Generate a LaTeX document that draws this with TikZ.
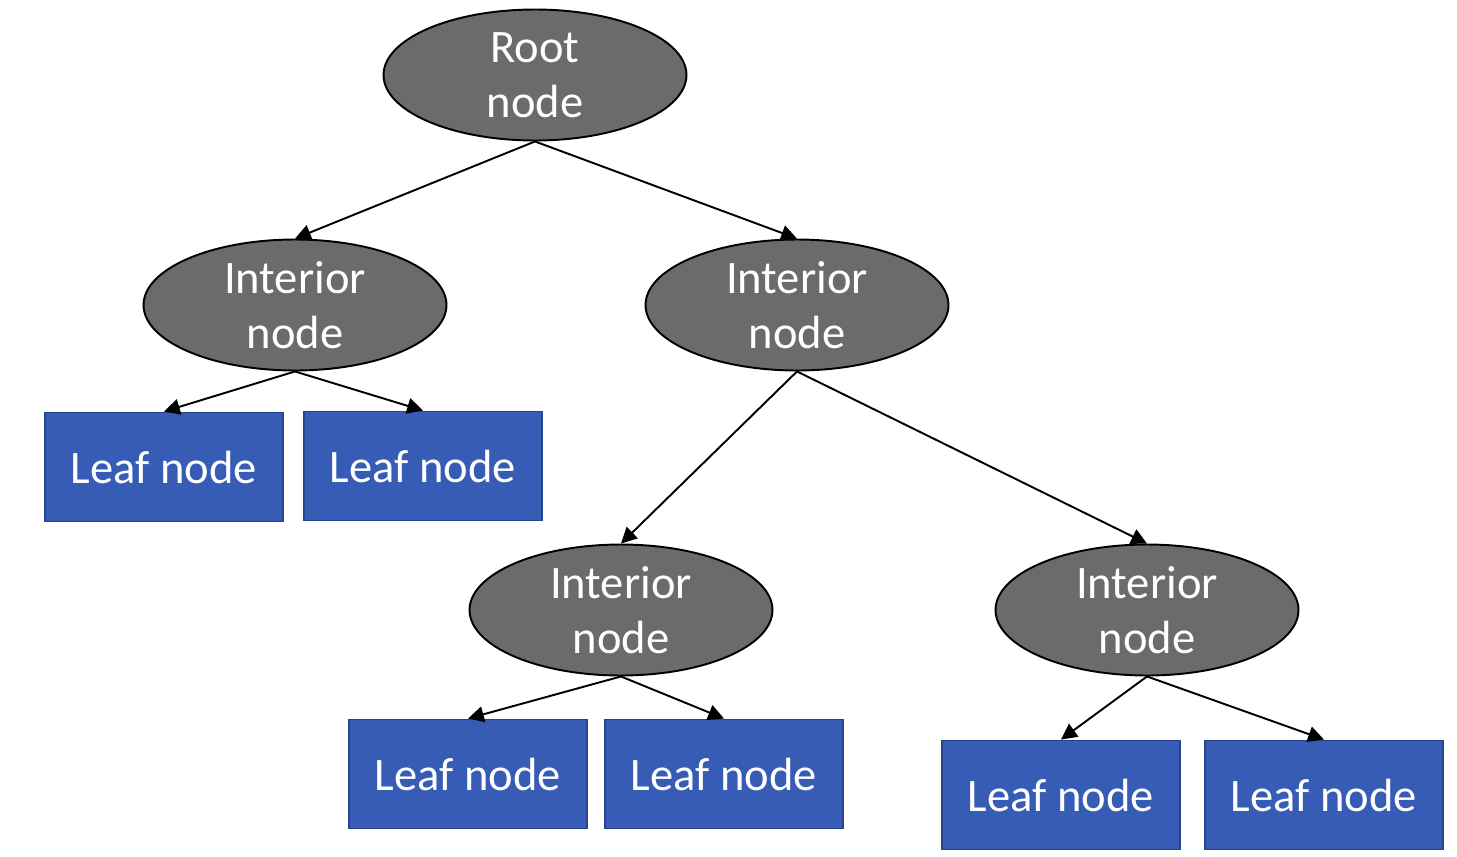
\documentclass[tikz,border=0pt]{standalone}
\usepackage{fontspec}
\setmainfont{Carlito}
\usetikzlibrary{shapes.geometric,arrows.meta}
\definecolor{nodegray}{RGB}{107,107,107}
\definecolor{leafblue}{RGB}{54,92,181}
\definecolor{leafedge}{RGB}{38,68,140}

\begin{document}
\begin{tikzpicture}[x=0.02cm, y=-0.02cm,
    inner/.style={ellipse, draw=black, line width=1.1pt, fill=nodegray,
      minimum width=6.06cm, minimum height=2.62cm, inner sep=0pt,
      text=white, align=center, font=\fontsize{26.5}{31}\selectfont},
    leaf/.style={rectangle, draw=leafedge, line width=1.1pt, fill=leafblue,
      minimum width=4.76cm, minimum height=2.18cm, inner sep=0pt,
      text=white, font=\fontsize{26.5}{31}\selectfont},
    edge/.style={-{Stealth[length=9pt, width=9pt, inset=0pt]}, line width=1.1pt}]
  \useasboundingbox (0,0) rectangle (1457,856);

  % --- Root ---
  \node[inner] (root) at (535,75) {Root\\node};

  % --- Second level ---
  \node[inner] (intL) at (295,305) {Interior\\node};
  \node[inner] (intR) at (797,305) {Interior\\node};

  % leaves under the left interior node
  \node[leaf] (leafA) at (164,467) {Leaf node};
  \node[leaf] (leafB) at (423,466) {Leaf node};

  % --- Third level ---
  \node[inner] (intRL) at (621,610) {Interior\\node};
  \node[inner] (intRR) at (1147,610) {Interior\\node};

  % leaves at the bottom
  \node[leaf] (leafC) at (468,774) {Leaf node};
  \node[leaf] (leafD) at (724,774) {Leaf node};
  \node[leaf] (leafE) at (1061,795) {Leaf node};
  \node[leaf] (leafF) at (1324,795) {Leaf node};

  % --- Edges ---
  \draw[edge] (root.south) -- (intL.north);
  \draw[edge] (root.south) -- (intR.north);
  \draw[edge] (intL.south) -- (leafA.north);
  \draw[edge] (intL.south) -- (leafB.north);
  \draw[edge] (intR.south) -- (intRL.north);
  \draw[edge] (intR.south) -- (intRR.north);
  \draw[edge] (intRL.south) -- (leafC.north);
  \draw[edge] (intRL.south) -- (leafD.north);
  \draw[edge] (intRR.south) -- (leafE.north);
  \draw[edge] (intRR.south) -- (leafF.north);
\end{tikzpicture}
\end{document}
